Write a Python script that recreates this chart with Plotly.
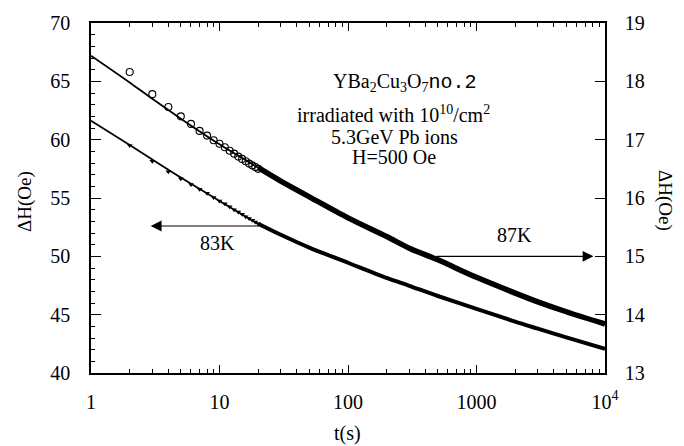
import plotly.graph_objects as go

# ---------------- data ----------------
# fitted curves
fit_t = [1, 2, 3, 5, 10, 20, 30, 50, 100, 200, 300, 500, 1000, 2000, 3000, 5000, 10000]
fit87 = [18.44, 17.98, 17.70, 17.36, 16.92, 16.52, 16.29, 16.02, 15.66, 15.34, 15.14, 14.94,
         14.64, 14.37, 14.22, 14.05, 13.84]  # right axis
fit83 = [61.62, 59.55, 58.30, 56.75, 54.75, 52.80, 51.85, 50.75, 49.45, 48.15, 47.47, 46.60,
         45.50, 44.40, 43.80, 43.05, 42.07]  # left axis

# measured points (sparse early part)
m87_t = [2, 3, 4, 5, 6, 7, 8, 9, 10, 11, 12, 13, 14, 15, 16, 17, 18, 19, 20]
m87_v = [18.16, 17.78, 17.56, 17.40, 17.27, 17.15, 17.07, 16.99, 16.93, 16.87, 16.81, 16.76,
         16.71, 16.67, 16.63, 16.59, 16.56, 16.53, 16.50]
m83_t = [2, 3, 4, 5, 6, 7, 8, 9, 10, 11, 12, 13, 14, 15, 16, 17, 18, 19, 20]
m83_v = [59.50, 58.15, 57.25, 56.65, 56.15, 55.75, 55.40, 55.05, 54.75, 54.50, 54.25, 54.00,
         53.80, 53.60, 53.40, 53.25, 53.10, 52.95, 52.80]

# dense measured region (merges into a thick band)
band_t = [20, 30, 50, 100, 200, 300, 500, 1000, 2000, 3000, 5000, 10000]
band87 = [16.52, 16.29, 16.02, 15.66, 15.34, 15.14, 14.94, 14.64, 14.37, 14.22, 14.05, 13.84]
band83 = [52.80, 51.85, 50.75, 49.45, 48.15, 47.47, 46.60, 45.50, 44.40, 43.80, 43.05, 42.07]

xtick_vals = [1, 10, 100, 1000, 10000]
xtick_text = ["1", "10", "100", "1000", "10<sup>4</sup>"]

# ---------------- figure ----------------
W, H = 684, 446
L, R, T, B = 91, 79, 15, 73
PW, PH = W - L - R, H - T - B
FONT = "Liberation Serif"

def px(x):
    return (x - L) / PW

def py(y):
    return (H - B - y) / PH

fig = go.Figure()

# fit lines
fig.add_trace(go.Scatter(x=fit_t, y=fit87, yaxis="y2", mode="lines",
                         line=dict(color="black", width=1.8, shape="spline", smoothing=0.8),
                         showlegend=False))
fig.add_trace(go.Scatter(x=fit_t, y=fit83, mode="lines",
                         line=dict(color="black", width=1.8, shape="spline", smoothing=0.8),
                         showlegend=False))
# dense bands
fig.add_trace(go.Scatter(x=band_t, y=band87, yaxis="y2", mode="lines",
                         line=dict(color="black", width=5.5, shape="spline", smoothing=0.8),
                         showlegend=False))
fig.add_trace(go.Scatter(x=band_t, y=band83, mode="lines",
                         line=dict(color="black", width=4, shape="spline", smoothing=0.8),
                         showlegend=False))
# markers
fig.add_trace(go.Scatter(x=m87_t, y=m87_v, yaxis="y2", mode="markers",
                         marker=dict(symbol="circle-open", size=7, color="black", line=dict(width=1.1)),
                         showlegend=False))
fig.add_trace(go.Scatter(x=m83_t, y=m83_v, mode="markers",
                         marker=dict(symbol="triangle-down", size=5, color="black"),
                         showlegend=False))

minor_x = [m * 10 ** d for d in range(4) for m in range(2, 10)]

axis_common = dict(showline=True, linecolor="black", linewidth=1.5, ticks="inside",
                   tickcolor="black", showgrid=False, zeroline=False,
                   tickfont=dict(family=FONT, size=20, color="black"))

fig.update_layout(
    width=W, height=H,
    margin=dict(l=L, r=R, t=T, b=B, pad=0),
    paper_bgcolor="white", plot_bgcolor="white",
    xaxis=dict(type="log", range=[0, 4], tickvals=xtick_vals, ticktext=xtick_text,
               ticklen=8, tickwidth=1.3, mirror="ticks", ticklabelstandoff=10,
               minor=dict(tickvals=minor_x, ticks="inside", ticklen=4, tickcolor="black", tickwidth=1),
               **axis_common),
    yaxis=dict(range=[40, 70], dtick=5, ticklen=10, tickwidth=1.3, ticklabelstandoff=15,
               minor=dict(dtick=1, ticks="inside", ticklen=4, tickcolor="black", tickwidth=1),
               **axis_common),
    yaxis2=dict(range=[13, 19], dtick=1, ticklen=10, tickwidth=1.3, overlaying="y", side="right",
                ticklabelstandoff=14, **axis_common),
)

ann = []
def text(x, y, s, size=19, angle=0, family=FONT):
    ann.append(dict(x=px(x), y=py(y), xref="paper", yref="paper", text=s, showarrow=False,
                    font=dict(family=family, size=size, color="black"), textangle=angle,
                    xanchor="center", yanchor="middle"))

text(404, 76, "YBa<sub>2</sub>Cu<sub>3</sub>O<sub>7</sub>"
     "<span style='font-family:Liberation Mono'>no.2</span>", size=20)
text(393, 108, "irradiated with 10<sup>10</sup>/cm<sup>2</sup>", size=20)
text(394, 132, "5.3GeV Pb ions", size=20)
text(394, 152, "H=500 Oe", size=20)
text(217, 240, "83K", size=20)
text(514, 232, "87K", size=20)
text(347, 435, "t(s)", size=20)
text(25, 198, "ΔH(Oe)", size=19, angle=-90)
text(665, 196, "ΔH(Oe)", size=19, angle=90)

# arrows
ann.append(dict(x=0.465, y=52.6, xref="x", yref="y", ax=1.323, ay=52.6, axref="x", ayref="y",
                text="", showarrow=True, arrowhead=2, arrowsize=1.8, arrowwidth=1.2, arrowcolor="black"))
ann.append(dict(x=3.91, y=15.0, xref="x", yref="y2", ax=2.677, ay=15.0, axref="x", ayref="y2",
                text="", showarrow=True, arrowhead=2, arrowsize=1.8, arrowwidth=1.2, arrowcolor="black"))

fig.update_layout(annotations=ann)
fig.write_html("out.html")
